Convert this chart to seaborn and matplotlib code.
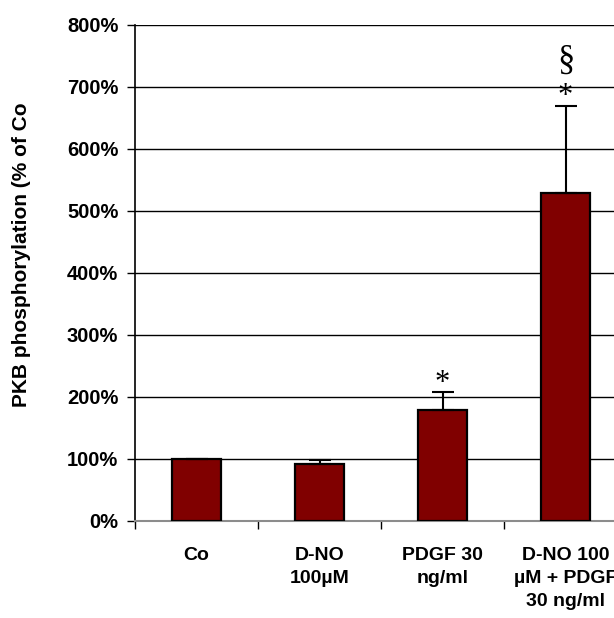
import matplotlib
matplotlib.use("Agg")
import matplotlib.pyplot as plt
import seaborn as sns
import pandas as pd
import numpy as np
from matplotlib.ticker import FuncFormatter, FixedLocator

# Data (percent of control)
categories = ["Co", "D-NO\n100µM", "PDGF 30\nng/ml", "D-NO 100\nµM + PDGF\n30 ng/ml"]
values = [100, 92, 179, 529]
errors_up = [0, 7, 29, 141]
marks = ["", "", "*", "*"]
marks_top = ["", "", "", "§"]
y_ticks = [0, 100, 200, 300, 400, 500, 600, 700, 800]

sns.set_theme(style="white")
plt.rcParams["font.family"] = ["Liberation Sans", "DejaVu Sans"]
plt.rcParams["text.color"] = "black"
plt.rcParams["xtick.color"] = "black"
plt.rcParams["ytick.color"] = "black"
plt.rcParams["xtick.labelcolor"] = "black"
plt.rcParams["ytick.labelcolor"] = "black"

W, H = 614, 618
fig = plt.figure(figsize=(W / 100, H / 100), dpi=100)
ax = fig.add_axes([135 / W, (H - 521) / H, 492 / W, (521 - 25) / H])

df = pd.DataFrame({"cat": categories, "val": values})
sns.barplot(data=df, x="cat", y="val", color="#800000", width=0.4,
            edgecolor="black", linewidth=1.6, saturation=1, ax=ax, zorder=3)

x = np.arange(len(categories))
ax.errorbar(x, values, yerr=[np.zeros(len(values)), errors_up], fmt="none",
            ecolor="black", elinewidth=1.5, capsize=8, capthick=1.5, zorder=4)

# significance marks above the error bar caps
for i, (v, e, m, m2) in enumerate(zip(values, errors_up, marks, marks_top)):
    if m:
        ax.annotate(m, (i, v + e), xytext=(0, -4), textcoords="offset points",
                    ha="center", va="bottom", fontsize=22,
                    family="Liberation Serif")
    if m2:
        ax.annotate(m2, (i, v + e), xytext=(0, 21), textcoords="offset points",
                    ha="center", va="bottom", fontsize=25,
                    family="Liberation Serif")

ax.set_xlim(-0.5, 3.5)
ax.set_ylim(0, 800)
ax.yaxis.set_major_locator(FixedLocator(y_ticks))
ax.yaxis.set_major_formatter(FuncFormatter(lambda v, p: f"{int(v)}%"))
ax.grid(axis="y", color="black", linewidth=1, zorder=0)
ax.set_axisbelow(True)

for s in ["top", "right"]:
    ax.spines[s].set_visible(False)
ax.spines["left"].set_color("black")
ax.spines["left"].set_linewidth(1.2)
ax.spines["bottom"].set_color("#8c8c8c")
ax.spines["bottom"].set_linewidth(1.5)

ax.tick_params(axis="y", which="major", left=True, length=6, width=1,
               color="black", pad=6, labelsize=14.5)
ax.tick_params(axis="x", which="major", length=0, pad=19, labelsize=14)
ax.set_xticks(x)
ax.set_xticklabels(categories, linespacing=1.45)
ax.xaxis.set_minor_locator(FixedLocator([-0.5, 0.5, 1.5, 2.5]))
ax.tick_params(axis="x", which="minor", bottom=True, length=6, width=1,
               color="black")
for lab in ax.get_xticklabels() + ax.get_yticklabels():
    lab.set_fontweight("bold")
    lab.set_color("black")

ax.set_xlabel("")
ax.set_ylabel("")
fig.text(22 / W, 1 - 255 / H, "PKB phosphorylation (% of Co", rotation=90,
         ha="center", va="center", fontsize=15, fontweight="bold",
         color="black")

fig.savefig("out.png", dpi=100)
